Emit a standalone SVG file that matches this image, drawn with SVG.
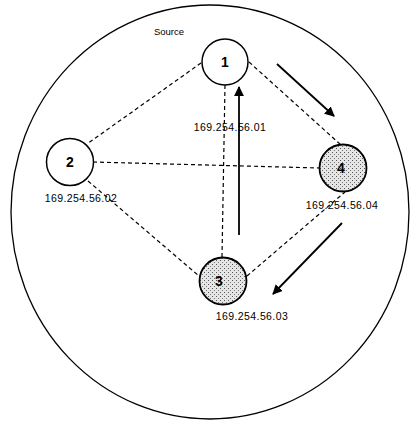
<svg xmlns="http://www.w3.org/2000/svg" width="411" height="423" viewBox="0 0 411 423">
<style>
.node{fill:#fff;stroke:#000;stroke-width:1.5}
.shade{fill:url(#stip);stroke:#000;stroke-width:1.8}
.num{font-family:"Liberation Sans",Arial,sans-serif;font-size:14px;font-weight:bold;text-anchor:middle;fill:#000}
.ip{font-family:"Liberation Sans",Arial,sans-serif;font-size:10.5px;letter-spacing:0.4px;text-anchor:middle;fill:#000}
.dash{stroke:#000;stroke-width:1.2;stroke-dasharray:4,3;fill:none}
.arr{stroke:#000;stroke-width:1.8;fill:none;marker-end:url(#ah)}
</style>
<defs>
<pattern id="stip" width="4" height="4" patternUnits="userSpaceOnUse">
<rect width="4" height="4" fill="#e6e6e6"/>
<rect x="0" y="0" width="1" height="1" fill="#555"/>
<rect x="2" y="2" width="1" height="1" fill="#777"/>
</pattern>
<marker id="ah" viewBox="0 0 10 10" refX="9" refY="5" markerWidth="5.5" markerHeight="5.5" orient="auto">
<path d="M0,0 L10,5 L0,10 z" fill="#000"/>
</marker>
</defs>
<rect width="411" height="423" fill="#fff"/>
<ellipse id="boundary" cx="210" cy="212" rx="199" ry="207" fill="none" stroke="#000" stroke-width="1.3"/>
<text x="169" y="35" font-family="Liberation Sans,Arial,sans-serif" font-size="9.5" text-anchor="middle">Source</text>
<g id="connectors">
<line class="dash" x1="201" y1="63" x2="87" y2="144"/>
<line class="dash" x1="249" y1="62" x2="341" y2="145"/>
<line class="dash" x1="225" y1="85" x2="222" y2="257"/>
<line class="dash" x1="93" y1="162" x2="319" y2="168"/>
<line class="dash" x1="88" y1="181" x2="199" y2="276"/>
<line class="dash" x1="247" y1="276" x2="345" y2="192"/>
<line class="arr" x1="239" y1="235" x2="239" y2="87"/>
<line class="arr" x1="277" y1="64" x2="334" y2="116"/>
<line class="arr" x1="342" y1="223" x2="273" y2="294"/>
</g>
<g id="node1">
<circle class="node" cx="225" cy="62" r="23"/>
<text class="num" x="225" y="67">1</text>
<text class="ip" x="230" y="131">169.254.56.01</text>
</g>
<g id="node2">
<circle class="node" cx="70" cy="162" r="23.5"/>
<text class="num" x="70" y="167">2</text>
<text class="ip" x="81" y="202">169.254.56.02</text>
</g>
<g id="node3">
<circle class="shade" cx="223" cy="281" r="23.5"/>
<text class="num" x="219" y="286">3</text>
<text class="ip" x="252" y="320">169.254.56.03</text>
</g>
<g id="node4">
<circle class="shade" cx="343" cy="168" r="23.5"/>
<text class="num" x="341" y="173">4</text>
<text class="ip" x="342" y="209">169.254.56.04</text>
</g>
</svg>
